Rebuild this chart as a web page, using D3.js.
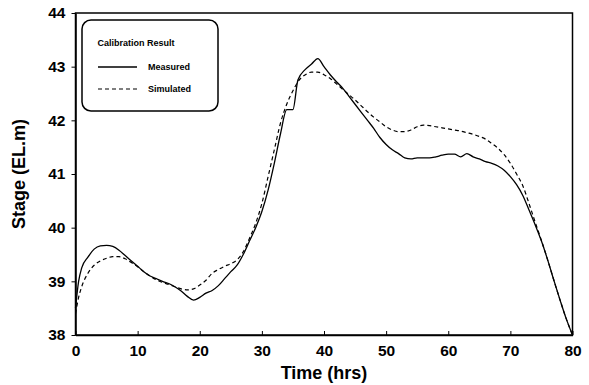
<!DOCTYPE html>
<html><head><meta charset="utf-8">
<script src="https://cdn.jsdelivr.net/npm/d3@7"></script>
<style>body{margin:0;background:#fff;} text{font-family:"Liberation Sans",Arial,sans-serif;font-weight:bold;}</style>
</head><body><svg id="c" width="589" height="385"></svg>
<script>
const measuredT = [0,0.5,1,2,3,4,5,6,7,8,9,10,11,12,13,14,15,16,17,18,19,20,21,22,23,24,25,26,27,28,29,30,31,32,33,34,35,35.8,37,38,39,40,41,42,43,44,45,46,47,48,49,50,51,52,53,54,55,56,57,58,59,60,61,62,63,64,65,66,67,68,69,70,71,72,73,74,75,76,77,78,79,80];
const measuredV = [38.5,39.0,39.25,39.45,39.6,39.66,39.67,39.65,39.58,39.48,39.38,39.28,39.18,39.1,39.05,39.0,38.96,38.9,38.82,38.72,38.65,38.7,38.78,38.83,38.92,39.05,39.18,39.3,39.5,39.75,40.0,40.3,40.7,41.2,41.75,42.2,42.2,42.75,42.95,43.05,43.15,43.0,42.85,42.72,42.6,42.45,42.3,42.15,42.0,41.85,41.68,41.55,41.45,41.38,41.3,41.28,41.3,41.3,41.3,41.32,41.35,41.37,41.37,41.32,41.38,41.32,41.28,41.23,41.2,41.15,41.07,40.95,40.8,40.6,40.33,40.05,39.75,39.4,39.02,38.65,38.3,38.0];
const simulatedT = [0,0.5,1,2,3,4,5,6,7,8,9,10,11,12,13,14,15,16,17,18,19,20,21,22,23,24,25,26,27,28,29,30,31,32,33,34,35,36,37,38,39,40,41,42,43,44,45,46,47,48,49,50,51,52,53,54,55,56,57,58,59,60,61,62,63,64,65,66,67,68,69,70,71,72,73,74,75,76,77,78,79,80];
const simulatedV = [38.4,38.7,38.9,39.15,39.3,39.38,39.43,39.46,39.46,39.42,39.35,39.27,39.18,39.1,39.03,38.98,38.94,38.9,38.86,38.84,38.86,38.93,39.02,39.15,39.22,39.28,39.33,39.4,39.55,39.8,40.08,40.45,40.95,41.45,41.95,42.3,42.55,42.75,42.85,42.9,42.9,42.85,42.78,42.68,42.58,42.48,42.38,42.27,42.16,42.06,41.97,41.88,41.82,41.79,41.79,41.82,41.88,41.91,41.9,41.88,41.86,41.84,41.82,41.8,41.77,41.74,41.7,41.65,41.57,41.48,41.36,41.2,41.0,40.78,40.45,40.1,39.76,39.4,39.02,38.65,38.3,38.0];
const xTicks = [0,10,20,30,40,50,60,70,80];
const yTicks = [38,39,40,41,42,43,44];
const legendTitle = "Calibration Result";
const seriesNames = ["Measured","Simulated"];
const xTitle = "Time (hrs)";
const yTitle = "Stage (EL.m)";

const svg = d3.select("#c");
const L=75.5, R=572.5, T=13, B=335;
const x = d3.scaleLinear().domain([0,80]).range([L,R]);
const y = d3.scaleLinear().domain([38,44]).range([B,T]);

svg.append("rect").attr("x",L).attr("y",T).attr("width",R-L).attr("height",B-T)
  .attr("fill","none").attr("stroke","#000").attr("stroke-width",1.5);

const xa = svg.append("g").attr("transform",`translate(0,${B})`)
  .call(d3.axisBottom(x).tickValues(xTicks).tickSizeInner(-4).tickSizeOuter(0).tickPadding(10));
xa.select(".domain").attr("stroke-width",1.5);
xa.selectAll("text").attr("font-size",15.5).attr("fill","#000").attr("font-family","Liberation Sans, Arial").attr("font-weight","bold");

const ya = svg.append("g").attr("transform",`translate(${L},0)`)
  .call(d3.axisLeft(y).tickValues(yTicks).tickFormat(d3.format("d")).tickSizeInner(4).tickSizeOuter(0).tickPadding(6));
ya.select(".domain").attr("stroke-width",1.5);
ya.selectAll("text").attr("font-size",15.5).attr("fill","#000").attr("font-family","Liberation Sans, Arial").attr("font-weight","bold");

const line = d3.line().x(d=>x(d[0])).y(d=>y(d[1])).curve(d3.curveMonotoneX);
const mData = measuredT.map((t,i)=>[t,measuredV[i]]);
const sData = simulatedT.map((t,i)=>[t,simulatedV[i]]);
svg.append("path").attr("d",line(sData)).attr("fill","none").attr("stroke","#000").attr("stroke-width",1.2).attr("stroke-dasharray","4,3");
svg.append("path").attr("d",line(mData)).attr("fill","none").attr("stroke","#000").attr("stroke-width",1.3);

const lg = svg.append("g");
lg.append("rect").attr("x",82).attr("y",20).attr("width",136).attr("height",91).attr("rx",9)
  .attr("fill","#fff").attr("stroke","#000").attr("stroke-width",1.5);
lg.append("text").attr("x",136).attr("y",46).attr("text-anchor","middle").attr("font-size",9).text(legendTitle);
lg.append("line").attr("x1",98).attr("x2",137).attr("y1",67).attr("y2",67).attr("stroke","#000").attr("stroke-width",1.3);
lg.append("line").attr("x1",98).attr("x2",137).attr("y1",89).attr("y2",89).attr("stroke","#000").attr("stroke-width",1.2).attr("stroke-dasharray","4,3");
lg.append("text").attr("x",148).attr("y",70).attr("font-size",9).text(seriesNames[0]);
lg.append("text").attr("x",148).attr("y",92).attr("font-size",9).text(seriesNames[1]);

svg.append("text").attr("x",(L+R)/2).attr("y",379).attr("text-anchor","middle").attr("font-size",18).text(xTitle);
svg.append("text").attr("transform",`translate(25,${(T+B)/2}) rotate(-90)`).attr("text-anchor","middle").attr("font-size",18).text(yTitle);
</script></body></html>
